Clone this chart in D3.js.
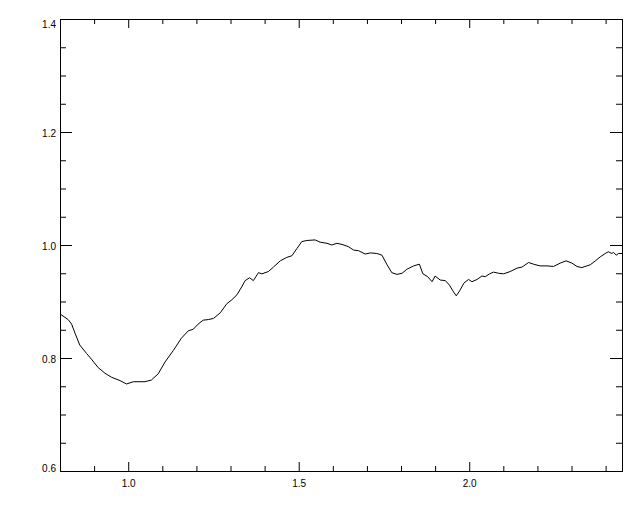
<!DOCTYPE html>
<html>
<head>
<meta charset="utf-8">
<script src="https://cdn.jsdelivr.net/npm/d3@7"></script>
<style>
  body { margin: 0; background: #fff; }
  svg { display: block; }
  .tick text { font-family: "Liberation Sans", Arial, sans-serif; font-size: 10px; fill: #000; }
</style>
</head>
<body>
<div id="chart"></div>
<script>
// curve values
const xs = [0.800, 0.824, 0.834, 0.844, 0.858, 0.878, 0.892, 0.912, 0.932, 0.951,
  0.976, 0.995, 1.015, 1.049, 1.068, 1.088, 1.108, 1.132, 1.156, 1.176,
  1.191, 1.205, 1.220, 1.235, 1.250, 1.270, 1.289, 1.304, 1.319, 1.333,
  1.343, 1.356, 1.367, 1.382, 1.392, 1.411, 1.426, 1.446, 1.465, 1.480,
  1.495, 1.509, 1.524, 1.548, 1.563, 1.583, 1.597, 1.612, 1.627, 1.646,
  1.661, 1.675, 1.695, 1.710, 1.729, 1.744, 1.759, 1.773, 1.788, 1.803,
  1.817, 1.837, 1.854, 1.864, 1.878, 1.891, 1.900, 1.915, 1.930, 1.942,
  1.954, 1.962, 1.972, 1.985, 1.998, 2.008, 2.023, 2.037, 2.047, 2.060,
  2.071, 2.086, 2.101, 2.120, 2.140, 2.155, 2.174, 2.189, 2.208, 2.228,
  2.247, 2.267, 2.284, 2.301, 2.316, 2.330, 2.345, 2.355, 2.370, 2.384,
  2.399, 2.408, 2.418, 2.423, 2.431, 2.438, 2.448];
const ys = [0.878, 0.868, 0.860, 0.844, 0.823, 0.808, 0.798, 0.783, 0.773, 0.766,
  0.760, 0.754, 0.758, 0.758, 0.761, 0.772, 0.793, 0.813, 0.835, 0.848,
  0.851, 0.860, 0.867, 0.868, 0.870, 0.880, 0.896, 0.903, 0.912, 0.926,
  0.937, 0.942, 0.937, 0.951, 0.949, 0.953, 0.961, 0.972, 0.978, 0.981,
  0.994, 1.006, 1.008, 1.009, 1.005, 1.003, 1.000, 1.003, 1.001, 0.997,
  0.991, 0.990, 0.984, 0.986, 0.985, 0.982, 0.965, 0.951, 0.948, 0.950,
  0.957, 0.963, 0.966, 0.949, 0.944, 0.935, 0.945, 0.938, 0.937, 0.929,
  0.917, 0.910, 0.919, 0.933, 0.939, 0.935, 0.939, 0.945, 0.944, 0.949,
  0.952, 0.950, 0.949, 0.953, 0.959, 0.961, 0.969, 0.966, 0.963, 0.963,
  0.962, 0.968, 0.972, 0.968, 0.962, 0.960, 0.963, 0.965, 0.972, 0.979,
  0.985, 0.988, 0.985, 0.987, 0.982, 0.985, 0.985];

const xMajor = [1.0, 1.5, 2.0];
const xMinor = [0.9, 1.1, 1.2, 1.3, 1.4, 1.6, 1.7, 1.8, 1.9, 2.1, 2.2, 2.3, 2.4];
const yMajor = [0.6, 0.8, 1.0, 1.2, 1.4];
const yMinor = [0.65, 0.7, 0.75, 0.85, 0.9, 0.95, 1.05, 1.1, 1.15, 1.25, 1.3, 1.35];

const width = 640, height = 512;
const plotL = 60, plotR = 622, plotT = 19, plotB = 471;

const svg = d3.select("#chart").append("svg")
  .attr("width", width)
  .attr("height", height);

const x = d3.scaleLinear().domain([0.8, 2.448]).range([plotL, plotR]);
const y = d3.scaleLinear().domain([0.6, 1.4]).range([plotB, plotT]);

// ticks point inward on all four sides, labels only bottom and left
function addAxis(axis, tx, ty, vals, len, labels) {
  const g = svg.append("g")
    .attr("transform", `translate(${tx},${ty})`)
    .call(axis.tickValues(vals).tickSize(-len).tickFormat(labels ? d3.format(".1f") : ""));
  g.select(".domain").remove();
  g.selectAll(".tick line").attr("stroke", "#000");
  return g;
}

const xb = addAxis(d3.axisBottom(x), 0, plotB, xMajor, 9, true);
xb.selectAll(".tick text").attr("y", 9).attr("dy", "0.71em");
addAxis(d3.axisBottom(x), 0, plotB, xMinor, 5, false);
addAxis(d3.axisTop(x), 0, plotT, xMajor, 9, false);
addAxis(d3.axisTop(x), 0, plotT, xMinor, 5, false);

const yl = addAxis(d3.axisLeft(y), plotL, 0, yMajor, 12, true);
yl.selectAll(".tick text")
  .attr("x", -4)
  .attr("dy", null)
  .attr("y", d => Math.min(Math.max(y(d) + 4, plotT + 8), plotB + 0.5) - y(d));
addAxis(d3.axisLeft(y), plotL, 0, yMinor, 6, false);
addAxis(d3.axisRight(y), plotR, 0, yMajor, 12, false);
addAxis(d3.axisRight(y), plotR, 0, yMinor, 6, false);

// plot frame
svg.append("rect")
  .attr("x", plotL + 0.5)
  .attr("y", plotT + 0.5)
  .attr("width", plotR - plotL)
  .attr("height", plotB - plotT)
  .attr("fill", "none")
  .attr("stroke", "#000")
  .attr("stroke-width", 1);

const line = d3.line()
  .x(d => x(d[0]))
  .y(d => y(d[1]));

svg.append("path")
  .datum(xs.map((v, i) => [v, ys[i]]))
  .attr("fill", "none")
  .attr("stroke", "#000")
  .attr("stroke-width", 1)
  .attr("d", line);
</script>
</body>
</html>
